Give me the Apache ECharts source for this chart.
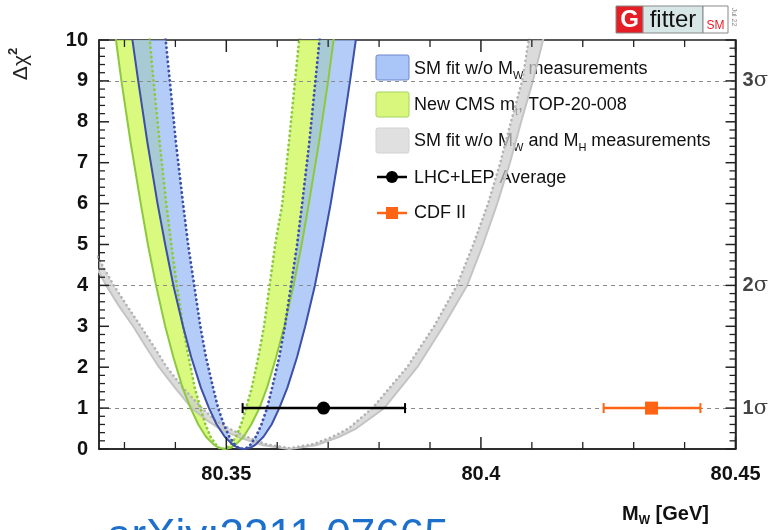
<!DOCTYPE html>
<html><head><meta charset="utf-8">
<script src="https://cdn.jsdelivr.net/npm/echarts@6/dist/echarts.min.js"></script>
<style>html,body{margin:0;padding:0;background:#fff}#c{width:771px;height:530px}</style>
</head><body><div id="c"></div>
<script>
// ---------- data ----------
// shared Δχ² levels for the parabola-like SM-fit curves (left branch top->min, right branch min->top)
const parabY = [10.5, 9, 7.5, 6, 5, 4, 3, 2.25, 1.5, 1, 0.6, 0.3, 0.1, 0.03, 0, 0.03, 0.1, 0.3, 0.6, 1, 1.5, 2.25, 3, 4, 5, 6, 7.5, 9, 10.5];
// SM fit w/o MW (blue): solid outer curve, dotted inner curve
const blueSolidX = [80.3310, 80.3327, 80.3345, 80.3365, 80.3380, 80.3396, 80.3415, 80.3431, 80.3450, 80.3466, 80.3481, 80.3497, 80.3513, 80.3523, 80.3535, 80.3547, 80.3557, 80.3573, 80.3589, 80.3604, 80.3620, 80.3639, 80.3655, 80.3674, 80.3690, 80.3705, 80.3725, 80.3743, 80.3760];
const blueDottedX = [80.3377, 80.3389, 80.3401, 80.3415, 80.3425, 80.3437, 80.3449, 80.3460, 80.3474, 80.3484, 80.3495, 80.3506, 80.3517, 80.3524, 80.3532, 80.3540, 80.3547, 80.3558, 80.3569, 80.3580, 80.3590, 80.3604, 80.3615, 80.3627, 80.3639, 80.3649, 80.3663, 80.3675, 80.3687];
// New CMS mt (green)
const greenSolidX = [80.3278, 80.3294, 80.3312, 80.3332, 80.3346, 80.3362, 80.3380, 80.3396, 80.3414, 80.3430, 80.3445, 80.3460, 80.3476, 80.3485, 80.3497, 80.3509, 80.3518, 80.3534, 80.3549, 80.3565, 80.3580, 80.3598, 80.3614, 80.3632, 80.3648, 80.3662, 80.3682, 80.3700, 80.3716];
const greenDottedX = [80.3346, 80.3357, 80.3369, 80.3382, 80.3392, 80.3403, 80.3415, 80.3426, 80.3438, 80.3449, 80.3459, 80.3469, 80.3480, 80.3486, 80.3494, 80.3502, 80.3508, 80.3519, 80.3529, 80.3539, 80.3550, 80.3563, 80.3574, 80.3585, 80.3596, 80.3610, 80.3623, 80.3635, 80.3647];
// SM fit w/o MW and MH (gray)
const graySolidX = [80.3238, 80.3264, 80.3289, 80.3317, 80.3342, 80.3368, 80.3399, 80.3432, 80.3462, 80.3487, 80.3526, 80.3569, 80.3624, 80.3679, 80.3722, 80.3755, 80.3810, 80.3875, 80.3926, 80.3973, 80.4004, 80.4032, 80.4057, 80.4079, 80.4102, 80.4122, 80.4132];
const graySolidY = [4.6, 4.0, 3.5, 3.0, 2.5, 2.0, 1.5, 1.0, 0.7, 0.5, 0.28, 0.1, 0, 0.1, 0.3, 0.5, 1.0, 2.0, 3.0, 4.0, 5.0, 6.0, 7.0, 8.0, 9.0, 10.0, 10.5];
const grayDottedX = [80.3238, 80.3279, 80.3305, 80.3332, 80.3358, 80.3383, 80.3415, 80.3452, 80.3479, 80.3505, 80.3540, 80.3577, 80.3624, 80.3671, 80.3709, 80.3740, 80.3787, 80.3855, 80.3908, 80.3953, 80.3985, 80.4014, 80.4038, 80.4059, 80.4081, 80.4094, 80.4102];
const grayDottedY = [4.9, 4.0, 3.5, 3.0, 2.5, 2.0, 1.5, 1.0, 0.7, 0.5, 0.3, 0.12, 0.02, 0.12, 0.3, 0.5, 1.0, 2.0, 3.0, 4.0, 5.0, 6.0, 7.0, 8.0, 9.0, 10.0, 10.5];
// measurements: [central, low, high, Δχ² level]
const lhcLep = [80.3691, 80.3532, 80.3851, 1];
const cdf = [80.4335, 80.4241, 80.4431, 1];
// sigma reference levels and labels
const sigmaLevels = [1, 4, 9];
const sigmaNums = ['1', '2', '3'];
// axis ticks / labels
const xMajorTicks = [80.35, 80.4, 80.45];
const xMinorTicks = [80.33, 80.34, 80.36, 80.37, 80.38, 80.39, 80.41, 80.42, 80.43, 80.44];
const yMajorTicks = [0, 1, 2, 3, 4, 5, 6, 7, 8, 9, 10];
const yMinorTicks = [0.2, 0.4, 0.6, 0.8, 1.2, 1.4, 1.6, 1.8, 2.2, 2.4, 2.6, 2.8, 3.2, 3.4, 3.6, 3.8, 4.2, 4.4, 4.6, 4.8,
  5.2, 5.4, 5.6, 5.8, 6.2, 6.4, 6.6, 6.8, 7.2, 7.4, 7.6, 7.8, 8.2, 8.4, 8.6, 8.8, 9.2, 9.4, 9.6, 9.8];
const xMin = 80.325, xMax = 80.45;
const yMin = 0, yMax = 10;

// ---------- chart ----------
const FONT = 'Liberation Sans';
const zip = (xs, ys) => xs.map((x, i) => [x, ys[i]]);
const TICK = '#222';

function band(name, oX, oY, iX, iY, fill, z) {
  return {
    type: 'custom', name, z, silent: true, clip: true,
    data: [[80.4, 5]], encode: { x: 0, y: 1 },
    renderItem(params, api) {
      const pts = [];
      for (let i = 0; i < oX.length; i++) pts.push(api.coord([oX[i], oY[i]]));
      for (let i = iX.length - 1; i >= 0; i--) pts.push(api.coord([iX[i], iY[i]]));
      const cs = params.coordSys;
      return { type: 'polygon', shape: { points: pts }, style: { fill: fill, stroke: null },
        clipPath: { type: 'rect', shape: { x: cs.x, y: cs.y, width: cs.width, height: cs.height } } };
    }
  };
}
function curve(name, xs, ys, color, width, dotted, z) {
  return {
    type: 'line', name, z, silent: true, showSymbol: false, symbol: 'none', clip: true,
    data: zip(xs, ys),
    lineStyle: { color, width, type: dotted ? [0.1, 4.6] : 'solid', cap: dotted ? 'round' : 'butt' }
  };
}
function errBar(name, rec, color, marker, z) {
  return {
    type: 'custom', name, z, silent: true,
    data: [rec], encode: { x: 0, y: 3 },
    renderItem(params, api) {
      const y = api.value(3);
      const c = api.coord([api.value(0), y]);
      const l = api.coord([api.value(1), y]);
      const h = api.coord([api.value(2), y]);
      const lw = 2.5, cap = 5;
      const kids = [
        { type: 'line', shape: { x1: l[0], y1: l[1], x2: h[0], y2: h[1] }, style: { stroke: color, lineWidth: lw } },
        { type: 'line', shape: { x1: l[0], y1: l[1] - cap, x2: l[0], y2: l[1] + cap }, style: { stroke: color, lineWidth: 2 } },
        { type: 'line', shape: { x1: h[0], y1: h[1] - cap, x2: h[0], y2: h[1] + cap }, style: { stroke: color, lineWidth: 2 } }
      ];
      if (marker === 'circle') kids.push({ type: 'circle', shape: { cx: c[0], cy: c[1], r: 6.5 }, style: { fill: color } });
      else kids.push({ type: 'rect', shape: { x: c[0] - 6.5, y: c[1] - 6.5, width: 13, height: 13 }, style: { fill: color } });
      return { type: 'group', children: kids };
    }
  };
}
// axis ticks (inside, mirrored on opposite side) drawn through the axis scales
function xTicks(name, values, len, width) {
  return {
    type: 'custom', name, z: 20, silent: true,
    data: values.map(v => [v, yMin]), encode: { x: 0, y: 1 },
    renderItem(params, api) {
      const cs = params.coordSys;
      const x = api.coord([api.value(0), yMin])[0];
      const b = cs.y + cs.height, t = cs.y;
      return { type: 'group', children: [
        { type: 'line', shape: { x1: x, y1: b, x2: x, y2: b - len }, style: { stroke: TICK, lineWidth: width } },
        { type: 'line', shape: { x1: x, y1: t, x2: x, y2: t + len }, style: { stroke: TICK, lineWidth: width } }
      ] };
    }
  };
}
function yTicks(name, values, len, width) {
  return {
    type: 'custom', name, z: 20, silent: true,
    data: values.map(v => [xMin, v]), encode: { x: 0, y: 1 },
    renderItem(params, api) {
      const cs = params.coordSys;
      const y = api.coord([xMin, api.value(1)])[1];
      const l = cs.x, r = cs.x + cs.width;
      return { type: 'group', children: [
        { type: 'line', shape: { x1: l, y1: y, x2: l + len, y2: y }, style: { stroke: TICK, lineWidth: width } },
        { type: 'line', shape: { x1: r, y1: y, x2: r - len, y2: y }, style: { stroke: TICK, lineWidth: width } }
      ] };
    }
  };
}

const BLUE_FILL = 'rgba(150,185,245,0.72)', BLUE_LINE = '#3d4fa6';
const GREEN_FILL = 'rgba(208,247,95,0.8)', GREEN_LINE = '#8dc93e';
const GRAY_FILL = 'rgba(205,205,205,0.72)', GRAY_LINE = '#c4c4c4', GRAY_DOT = '#b3b3b3';
const ORANGE = '#ff6414';

const option = {
  animation: false,
  textStyle: { fontFamily: FONT },
  grid: { left: 99, right: 34, top: 40, bottom: 81, show: true, borderColor: '#222', borderWidth: 1.5, backgroundColor: 'transparent' },
  xAxis: {
    type: 'value', min: xMin, max: xMax, position: 'bottom', splitLine: { show: false },
    axisLine: { show: true, lineStyle: { color: '#222', width: 1.5 } },
    axisTick: { show: false },
    axisLabel: { show: true, customValues: xMajorTicks, margin: 15, fontSize: 20, fontWeight: 'bold', color: '#111', fontFamily: FONT,
      formatter: v => String(Math.round(v * 1000) / 1000) }
  },
  yAxis: [
    {
      type: 'value', min: yMin, max: yMax, interval: 1, position: 'left', splitLine: { show: false },
      axisLine: { show: true, lineStyle: { color: '#222', width: 1.5 } },
      axisTick: { show: false },
      axisLabel: { margin: 11, fontSize: 20, fontWeight: 'bold', color: '#111', fontFamily: FONT }
    },
    {
      type: 'value', min: yMin, max: yMax, interval: 1, position: 'right', splitLine: { show: false },
      axisLine: { show: true, lineStyle: { color: '#222', width: 1.5 } },
      axisTick: { show: false },
      axisLabel: {
        margin: 7, customValues: sigmaLevels, color: '#444',
        formatter: v => '{n|' + sigmaNums[sigmaLevels.indexOf(Math.round(v))] + '}{s|σ}',
        rich: {
          n: { fontSize: 20, fontWeight: 'bold', color: '#444', fontFamily: FONT },
          s: { fontSize: 21, color: '#444', fontFamily: 'DejaVu Serif' }
        }
      }
    }
  ],
  series: [
    {
      type: 'line', name: 'levels', data: [], z: 0, silent: true,
      markLine: {
        silent: true, symbol: 'none', label: { show: false },
        lineStyle: { color: '#8c8c8c', type: [4, 4], width: 1.2 },
        data: sigmaLevels.map(v => ({ yAxis: v }))
      }
    },
    band('greenBand', greenSolidX, parabY, greenDottedX, parabY, GREEN_FILL, 1),
    band('blueBand', blueSolidX, parabY, blueDottedX, parabY, BLUE_FILL, 2),
    band('grayBand', graySolidX, graySolidY, grayDottedX, grayDottedY, GRAY_FILL, 3),
    curve('graySolid', graySolidX, graySolidY, GRAY_LINE, 2, false, 4),
    curve('grayDotted', grayDottedX, grayDottedY, GRAY_DOT, 2.6, true, 4),
    curve('greenSolid', greenSolidX, parabY, GREEN_LINE, 2, false, 5),
    curve('greenDotted', greenDottedX, parabY, GREEN_LINE, 2.8, true, 5),
    curve('blueSolid', blueSolidX, parabY, BLUE_LINE, 2, false, 6),
    curve('blueDotted', blueDottedX, parabY, BLUE_LINE, 2.8, true, 6),
    errBar('LHC+LEP Average', lhcLep, '#000', 'circle', 10),
    errBar('CDF II', cdf, ORANGE, 'square', 10),
    xTicks('xMajor', xMajorTicks, 12, 1.5),
    xTicks('xMinor', xMinorTicks, 7, 1.3),
    yTicks('yMajor', yMajorTicks, 10, 1.5),
    yTicks('yMinor', yMinorTicks, 6, 1.3)
  ],
  graphic: [
    // y axis title
    { type: 'text', x: 21, y: 64, rotation: Math.PI / 2,
      style: { text: '{a|Δχ}{p|2}', align: 'center', verticalAlign: 'middle',
        rich: { a: { fontSize: 21, fontFamily: FONT, fill: '#222', lineHeight: 28 },
                p: { fontSize: 13, fontWeight: 'bold', fontFamily: FONT, fill: '#222', lineHeight: 13, verticalAlign: 'top' } } } },
    // x axis title
    { type: 'text', x: 622, y: 514,
      style: { text: '{b|M}{s|W}{b| [GeV]}', align: 'left', verticalAlign: 'middle',
        rich: { b: { fontSize: 20, fontWeight: 'bold', fontFamily: FONT, fill: '#111', lineHeight: 26 },
                s: { fontSize: 12, fontWeight: 'bold', fontFamily: FONT, fill: '#111', lineHeight: 12, verticalAlign: 'bottom' } } } },
    // arXiv reference (cut by the bottom edge)
    { type: 'text', x: 107, y: 516, style: { text: 'arXiv:2211.07665', fontSize: 44, fontFamily: FONT, fill: '#1d6fcc', align: 'left', verticalAlign: 'top' } },
    // Gfitter logo
    { type: 'rect', shape: { x: 616, y: 6, width: 27, height: 27 }, style: { fill: '#e51e25', stroke: '#888', lineWidth: 1 } },
    { type: 'text', x: 629.5, y: 20, style: { text: 'G', fontSize: 24, fontWeight: 'bold', fontFamily: FONT, fill: '#fff', align: 'center', verticalAlign: 'middle' } },
    { type: 'rect', shape: { x: 643, y: 6, width: 60, height: 27 }, style: { fill: '#d7e6e6', stroke: '#888', lineWidth: 1 } },
    { type: 'text', x: 673, y: 20, style: { text: 'fitter', fontSize: 24, fontFamily: FONT, fill: '#111', align: 'center', verticalAlign: 'middle' } },
    { type: 'rect', shape: { x: 703, y: 6, width: 25, height: 27 }, style: { fill: '#fff', stroke: '#888', lineWidth: 1 } },
    { type: 'text', x: 715.5, y: 26, style: { text: 'SM', fontSize: 12, fontFamily: FONT, fill: '#e51e25', align: 'center', verticalAlign: 'middle' } },
    { type: 'text', x: 734, y: 17, rotation: -Math.PI / 2, style: { text: 'Jul 22', fontSize: 7, fontFamily: FONT, fill: '#888', align: 'center', verticalAlign: 'middle' } },
    // legend
    { type: 'rect', shape: { x: 376, y: 55, width: 33, height: 25, r: 2 }, style: { fill: 'rgba(170,198,248,1)', stroke: '#6f84cf', lineWidth: 1 } },
    { type: 'rect', shape: { x: 376, y: 92, width: 33, height: 25, r: 2 }, style: { fill: '#d9f77c', stroke: '#a5d35d', lineWidth: 1 } },
    { type: 'rect', shape: { x: 376, y: 128, width: 33, height: 25, r: 2 }, style: { fill: '#e0e0e0', stroke: '#d2d2d2', lineWidth: 1 } },
    { type: 'line', shape: { x1: 377, y1: 177, x2: 407, y2: 177 }, style: { stroke: '#000', lineWidth: 2.5 } },
    { type: 'circle', shape: { cx: 392, cy: 177, r: 6 }, style: { fill: '#000' } },
    { type: 'line', shape: { x1: 377, y1: 213, x2: 407, y2: 213 }, style: { stroke: ORANGE, lineWidth: 2.5 } },
    { type: 'rect', shape: { x: 386, y: 207, width: 12, height: 12 }, style: { fill: ORANGE } },
    ...[
      ['{t|SM fit w/o M}{s|W}{t| measurements}', 69],
      ['{t|New CMS m}{s|t}{t|, TOP-20-008}', 105],
      ['{t|SM fit w/o M}{s|W}{t| and M}{s|H}{t| measurements}', 141],
      ['{t|LHC+LEP Average}', 178],
      ['{t|CDF II}', 213]
    ].map(([txt, y]) => ({
      type: 'text', x: 414, y: y,
      style: { text: txt, align: 'left', verticalAlign: 'middle',
        rich: { t: { fontSize: 18, fontFamily: FONT, fill: '#111', lineHeight: 24 },
                s: { fontSize: 11, fontFamily: FONT, fill: '#111', lineHeight: 11, verticalAlign: 'bottom' } } }
    }))
  ]
};

const chart = echarts.init(document.getElementById('c'), null, { renderer: 'canvas' });
chart.setOption(option);
</script>
</body></html>
